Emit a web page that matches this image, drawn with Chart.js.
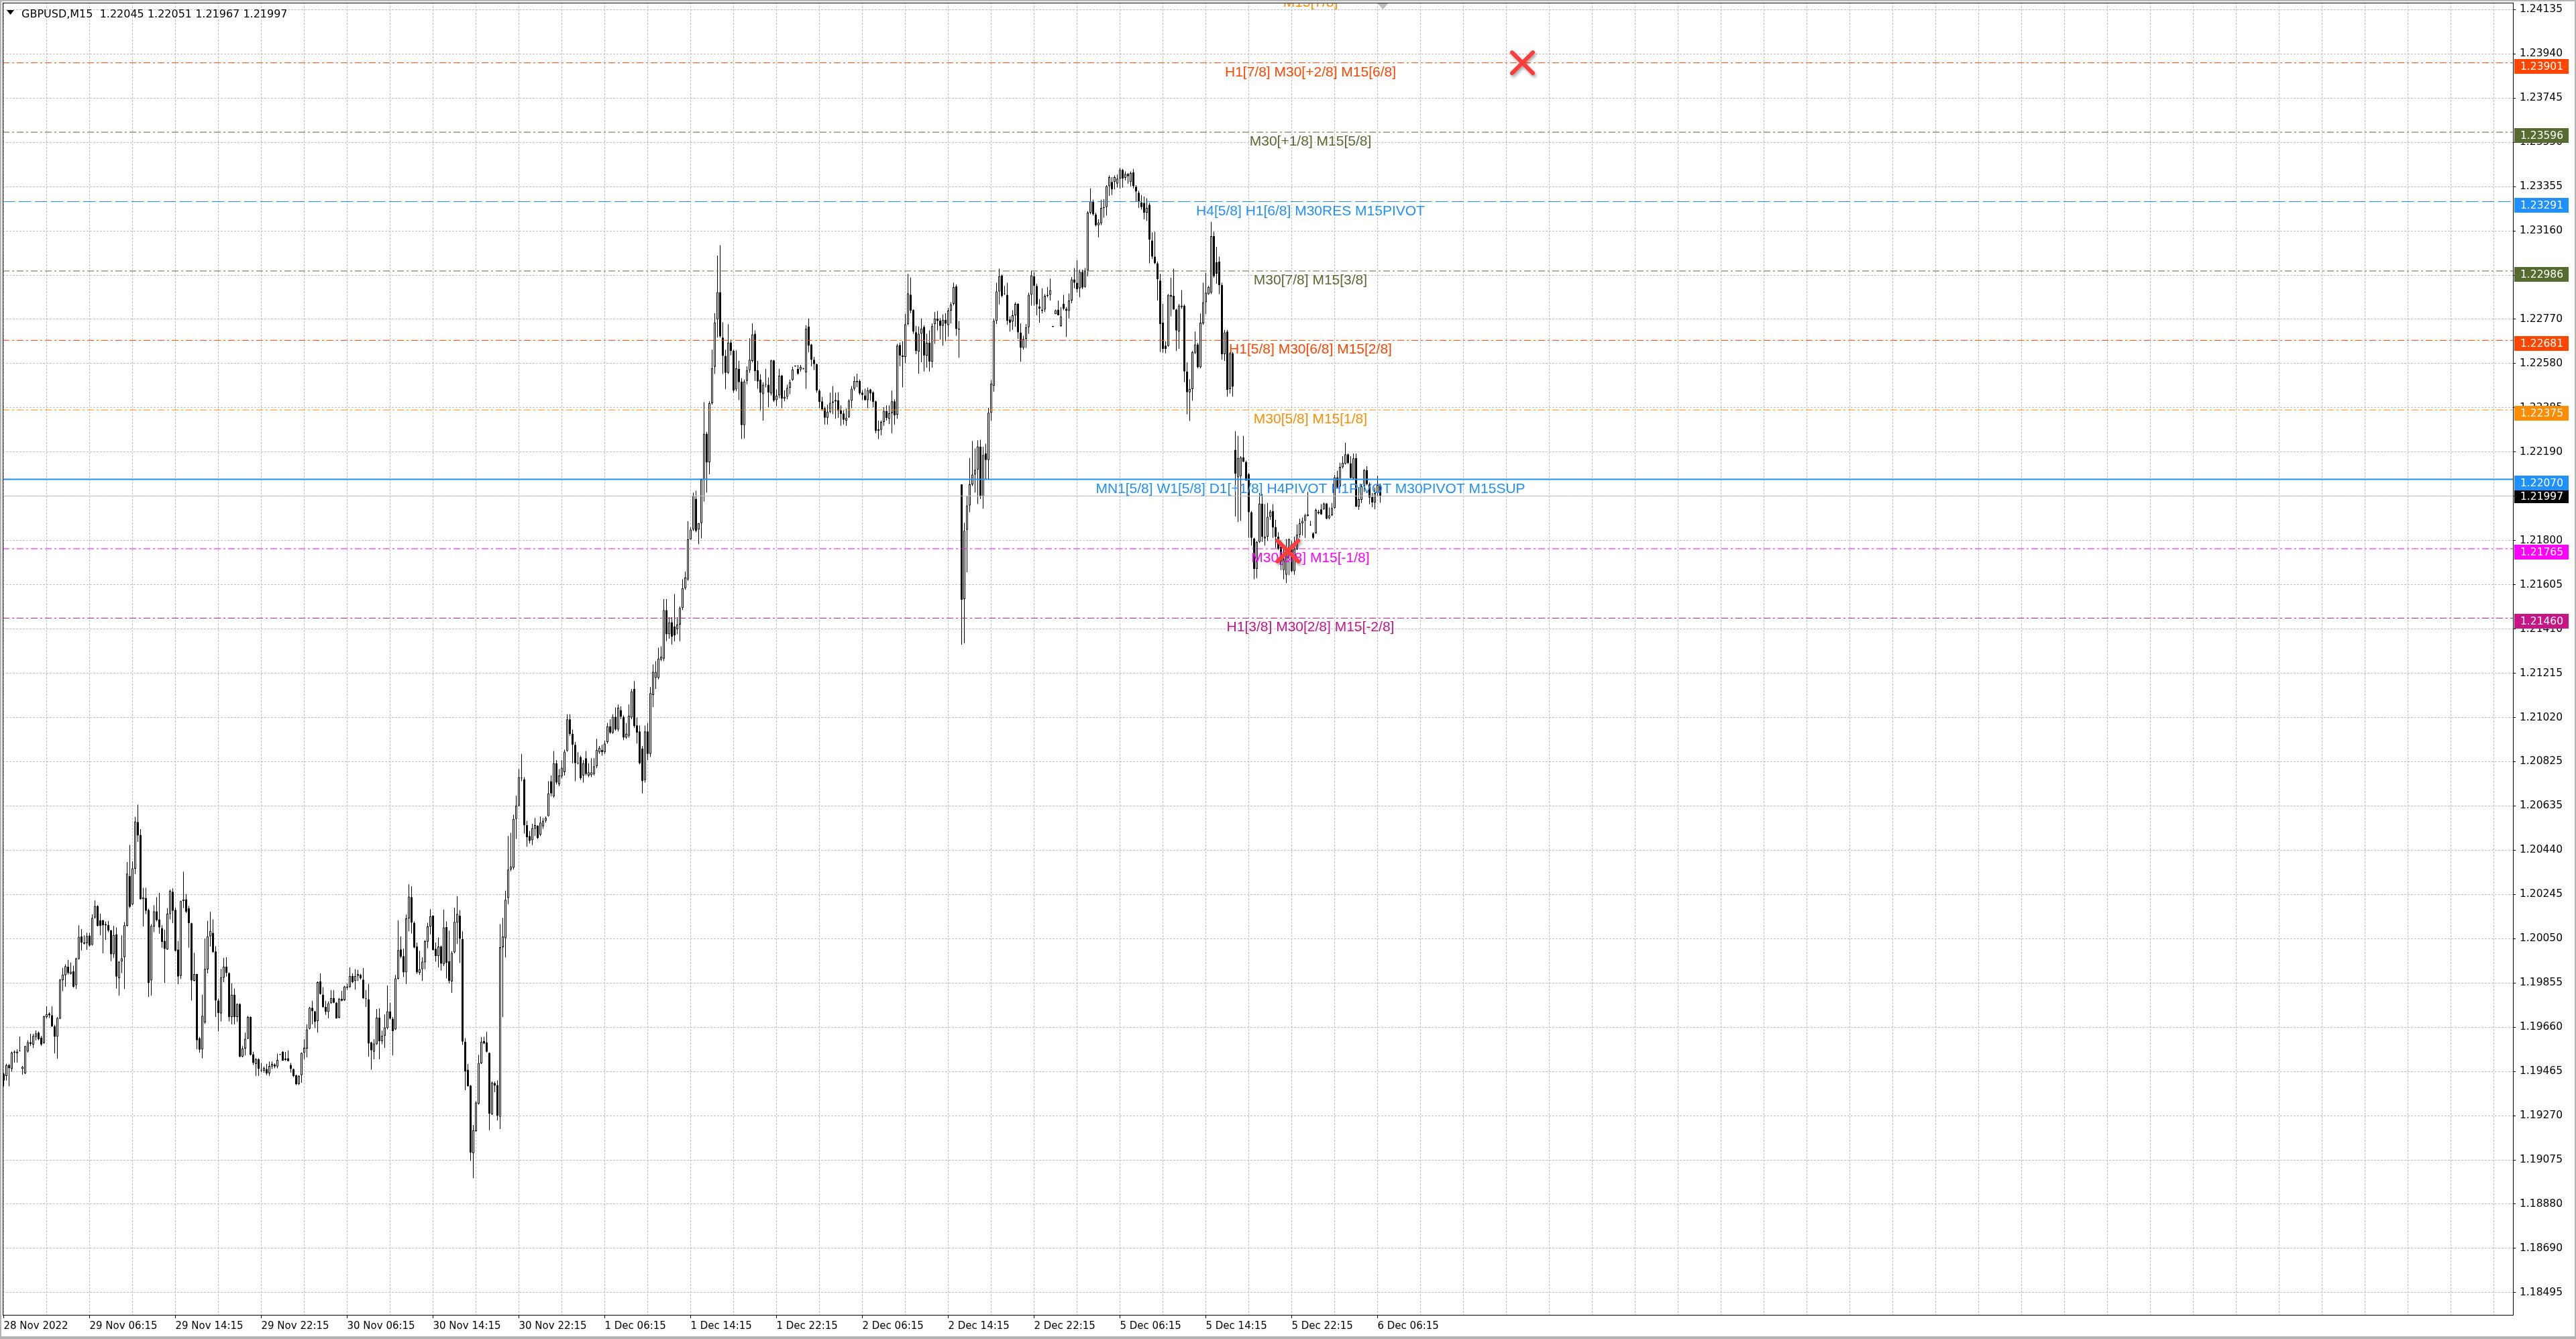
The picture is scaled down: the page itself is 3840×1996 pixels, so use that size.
<!DOCTYPE html>
<html>
<head>
<meta charset="utf-8">
<title>GBPUSD,M15</title>
<script src="https://cdn.jsdelivr.net/npm/chart.js@4.4.0/dist/chart.umd.min.js"></script>
<style>
  html, body { margin: 0; padding: 0; background: #fff; overflow: hidden; }
  #wrap { width: 3840px; height: 1996px; }
</style>
</head>
<body>
<div id="wrap"><canvas id="chart" width="3840" height="1996"></canvas></div>
<script>
const symbol = "GBPUSD,M15";

// M15 candles, 28 Nov 22:15 .. 6 Dec 06:45
const opens = [
  1.19456,1.19447,1.19496,1.19478,1.19550,1.19547,1.19557,1.19478,1.19458,1.19555,
  1.19596,1.19586,1.19619,1.19638,1.19616,1.19592,1.19707,1.19722,1.19715,1.19665,
  1.19620,1.19699,1.19869,1.19890,1.19928,1.19896,1.19908,1.19847,1.19962,1.20061,
  1.20034,1.20031,1.20065,1.20024,1.20144,1.20195,1.20131,1.20131,1.20115,1.20111,
  1.20087,1.19982,1.20069,1.19877,1.19951,1.19970,1.20107,1.20326,1.20201,1.20358,
  1.20564,1.20507,1.20224,1.20230,1.20178,1.19867,1.20105,1.20171,1.20136,1.20097,
  1.20041,1.20003,1.20159,1.20257,1.20178,1.20004,1.19887,1.20216,1.20224,1.20185,
  1.20119,1.19866,1.19895,1.19614,1.19564,1.19682,1.19916,1.20061,1.20077,1.19995,
  1.19779,1.19722,1.19879,1.19928,1.19900,1.19707,1.19805,1.19707,1.19764,1.19532,
  1.19568,1.19611,1.19707,1.19543,1.19500,1.19521,1.19470,1.19470,1.19478,1.19459,
  1.19489,1.19497,1.19489,1.19541,1.19554,1.19524,1.19525,1.19496,1.19478,1.19451,
  1.19411,1.19451,1.19549,1.19568,1.19655,1.19747,1.19732,1.19688,1.19863,1.19805,
  1.19751,1.19729,1.19767,1.19791,1.19769,1.19704,1.19787,1.19780,1.19841,1.19838,
  1.19887,1.19865,1.19887,1.19892,1.19871,1.19789,1.19785,1.19595,1.19554,1.19587,
  1.19704,1.19600,1.19623,1.19658,1.19732,1.19699,1.19652,1.19874,1.20004,1.19974,
  1.19903,1.20140,1.20234,1.20121,1.20016,1.19901,1.19917,1.19947,1.20038,1.20105,
  1.20152,1.20007,1.19974,1.20016,1.19939,1.20102,1.19952,1.19863,1.19991,1.20121,
  1.20152,1.20049,1.19598,1.19475,1.19405,1.19107,1.19205,1.19325,1.19503,1.19601,
  1.19595,1.19549,1.19278,1.19416,1.19407,1.19268,1.20013,1.20053,1.20230,1.20355,
  1.20363,1.20577,1.20636,1.20756,1.20751,1.20550,1.20502,1.20484,1.20534,1.20548,
  1.20508,1.20545,1.20569,1.20590,1.20743,1.20676,1.20822,1.20729,1.20764,1.20783,
  1.20876,1.21015,1.20951,1.20903,1.20822,1.20849,1.20768,1.20844,1.20768,1.20770,
  1.20775,1.20809,1.20871,1.20881,1.20871,1.20916,1.20985,1.20956,1.21026,1.20970,
  1.21056,1.21026,1.20935,1.20943,1.21023,1.21149,1.20989,1.20962,1.20887,1.20748,
  1.20962,1.20863,1.21122,1.21197,1.21197,1.21277,1.21282,1.21495,1.21389,1.21442,
  1.21424,1.21411,1.21432,1.21505,1.21592,1.21630,1.21806,1.21849,1.21985,1.21849,
  1.21878,1.22069,1.22271,1.22145,1.22405,1.22565,1.22773,1.22893,1.22693,1.22613,
  1.22538,1.22672,1.22635,1.22465,1.22556,1.22500,1.22308,1.22503,1.22550,1.22591,
  1.22710,1.22550,1.22509,1.22445,1.22486,1.22486,1.22448,1.22593,1.22418,1.22439,
  1.22526,1.22425,1.22433,1.22472,1.22507,1.22567,1.22556,1.22553,1.22556,1.22540,
  1.22742,1.22663,1.22596,1.22577,1.22460,1.22413,1.22383,1.22341,1.22367,1.22406,
  1.22412,1.22418,1.22374,1.22360,1.22328,1.22344,1.22416,1.22468,1.22497,1.22503,
  1.22451,1.22439,1.22418,1.22465,1.22453,1.22413,1.22283,1.22288,1.22322,1.22371,
  1.22336,1.22361,1.22413,1.22355,1.22661,1.22614,1.22608,1.22752,1.22882,1.22814,
  1.22717,1.22631,1.22710,1.22740,1.22614,1.22670,1.22587,1.22752,1.22777,1.22768,
  1.22745,1.22771,1.22748,1.22812,1.22841,1.22919,1.22728,1.22048,1.21544,1.21848,
  1.21955,1.22048,1.22091,1.22112,1.22213,1.21995,1.22184,1.22155,1.22363,1.22481,
  1.22767,1.22896,1.22966,1.22884,1.22881,1.22773,1.22763,1.22791,1.22841,1.22716,
  1.22648,1.22687,1.22739,1.22881,1.22963,1.22920,1.22830,1.22810,1.22816,1.22877,
  1.22881,1.22741,1.22796,1.22816,1.22744,1.22841,1.22820,1.22810,1.22856,1.22949,
  1.22934,1.22910,1.22982,1.22916,1.22987,1.23242,1.23292,1.23235,1.23187,1.23196,
  1.23263,1.23267,1.23359,1.23377,1.23377,1.23370,1.23392,1.23430,1.23396,1.23413,
  1.23377,1.23420,1.23356,1.23330,1.23287,1.23285,1.23242,1.23277,1.23120,1.23049,
  1.23020,1.22944,1.22759,1.22658,1.22656,1.22881,1.22877,1.22816,1.22720,1.22827,
  1.22834,1.22544,1.22453,1.22467,1.22627,1.22663,1.22563,1.22756,1.22849,1.22884,
  1.22891,1.23139,1.23024,1.23027,1.22924,1.22620,1.22720,1.22467,1.22624,1.22200,
  1.22079,1.22084,1.22167,1.22147,1.22093,1.21926,1.21810,1.21676,1.21795,1.21963,
  1.21810,1.21818,1.21905,1.21931,1.21860,1.21818,1.21774,1.21671,1.21651,1.21749,
  1.21784,1.21666,1.21763,1.21826,1.21877,1.21887,1.21909,1.21869,1.21833,1.21833,
  1.21921,1.21938,1.21938,1.21964,1.21899,1.21912,1.21944,1.22079,1.22039,1.22123,
  1.22138,1.22180,1.22141,1.22074,1.22164,1.21951,1.21980,1.22039,1.22111,1.22049,
  1.21993,1.21968,1.22010,1.22045
];

const highs = [
  1.19461,1.19501,1.19501,1.19555,1.19560,1.19564,1.19621,1.19491,1.19579,1.19604,
  1.19633,1.19633,1.19648,1.19643,1.19623,1.19712,1.19753,1.19727,1.19753,1.19673,
  1.19707,1.19873,1.19923,1.19938,1.19957,1.19946,1.19932,1.19967,1.20110,1.20093,
  1.20066,1.20077,1.20075,1.20158,1.20219,1.20198,1.20161,1.20134,1.20126,1.20129,
  1.20090,1.20107,1.20100,1.19952,1.20066,1.20124,1.20388,1.20463,1.20391,1.20586,
  1.20640,1.20532,1.20274,1.20274,1.20183,1.20115,1.20198,1.20234,1.20252,1.20110,
  1.20090,1.20185,1.20267,1.20272,1.20188,1.20041,1.20218,1.20345,1.20247,1.20195,
  1.20121,1.19989,1.19896,1.19619,1.19805,1.20051,1.20129,1.20169,1.20136,1.20018,
  1.19788,1.19918,1.19967,1.19969,1.19903,1.19854,1.19832,1.19767,1.19767,1.19579,
  1.19638,1.19712,1.19709,1.19554,1.19527,1.19525,1.19505,1.19489,1.19500,1.19511,
  1.19511,1.19503,1.19546,1.19543,1.19556,1.19553,1.19560,1.19505,1.19480,1.19453,
  1.19451,1.19551,1.19609,1.19674,1.19751,1.19778,1.19734,1.19863,1.19898,1.19838,
  1.19778,1.19775,1.19825,1.19825,1.19772,1.19791,1.19822,1.19844,1.19854,1.19925,
  1.19898,1.19917,1.19914,1.19896,1.19922,1.19825,1.19852,1.19598,1.19609,1.19741,
  1.19744,1.19647,1.19718,1.19845,1.19769,1.19707,1.19892,1.20132,1.20061,1.20007,
  1.20157,1.20290,1.20282,1.20127,1.20034,1.19998,1.19969,1.20045,1.20121,1.20181,
  1.20154,1.20034,1.20056,1.20021,1.20179,1.20127,1.20086,1.19996,1.20187,1.20238,
  1.20176,1.20083,1.19614,1.19500,1.19407,1.19232,1.19336,1.19540,1.19618,1.19620,
  1.19641,1.19551,1.19423,1.19423,1.19428,1.20115,1.20142,1.20262,1.20502,1.20516,
  1.20596,1.20679,1.20796,1.20863,1.20761,1.20569,1.20524,1.20556,1.20582,1.20550,
  1.20588,1.20582,1.20588,1.20743,1.20768,1.20876,1.20836,1.20796,1.20836,1.20882,
  1.21037,1.21037,1.20970,1.20916,1.20871,1.20855,1.20836,1.20876,1.20822,1.20844,
  1.20844,1.20930,1.20898,1.20903,1.20922,1.20999,1.21015,1.21037,1.21067,1.21080,
  1.21072,1.21032,1.20999,1.21080,1.21149,1.21183,1.21023,1.20988,1.20898,1.20988,
  1.20999,1.21157,1.21256,1.21271,1.21330,1.21336,1.21544,1.21544,1.21464,1.21464,
  1.21566,1.21464,1.21512,1.21631,1.21664,1.21886,1.21859,1.22012,1.22020,1.21878,
  1.22073,1.22409,1.22279,1.22413,1.22640,1.22800,1.23054,1.23099,1.22760,1.22640,
  1.22752,1.22684,1.22640,1.22637,1.22591,1.22515,1.22509,1.22567,1.22690,1.22756,
  1.22725,1.22591,1.22532,1.22497,1.22556,1.22518,1.22596,1.22596,1.22465,1.22556,
  1.22529,1.22462,1.22486,1.22509,1.22565,1.22570,1.22573,1.22573,1.22560,1.22748,
  1.22777,1.22666,1.22608,1.22579,1.22465,1.22433,1.22390,1.22398,1.22451,1.22480,
  1.22451,1.22453,1.22395,1.22375,1.22381,1.22422,1.22480,1.22523,1.22535,1.22509,
  1.22462,1.22468,1.22474,1.22468,1.22457,1.22416,1.22328,1.22328,1.22387,1.22395,
  1.22395,1.22460,1.22422,1.22666,1.22672,1.22678,1.22798,1.22973,1.22958,1.22818,
  1.22745,1.22742,1.22777,1.22748,1.22710,1.22725,1.22756,1.22806,1.22810,1.22779,
  1.22795,1.22800,1.22824,1.22849,1.22935,1.22926,1.22766,1.22048,1.21879,1.21998,
  1.22164,1.22238,1.22206,1.22241,1.22244,1.22213,1.22227,1.22384,1.22506,1.22777,
  1.22934,1.22996,1.22970,1.22920,1.22934,1.22787,1.22813,1.22849,1.22844,1.22756,
  1.22701,1.22753,1.22891,1.22987,1.22980,1.22930,1.22863,1.22910,1.22884,1.22916,
  1.22953,1.22744,1.22816,1.22856,1.22827,1.22881,1.22827,1.22887,1.22959,1.22999,
  1.23034,1.22992,1.22992,1.22999,1.23249,1.23349,1.23299,1.23242,1.23213,1.23299,
  1.23302,1.23363,1.23406,1.23399,1.23406,1.23410,1.23439,1.23435,1.23424,1.23416,
  1.23424,1.23435,1.23363,1.23339,1.23320,1.23313,1.23306,1.23285,1.23156,1.23159,
  1.23027,1.22973,1.22841,1.22677,1.22884,1.22956,1.22996,1.22820,1.22841,1.22902,
  1.22839,1.22584,1.22510,1.22634,1.22720,1.22670,1.22799,1.22934,1.22977,1.22920,
  1.23202,1.23159,1.23092,1.23049,1.22934,1.22727,1.22727,1.22630,1.22630,1.22282,
  1.22261,1.22172,1.22261,1.22152,1.22098,1.21931,1.21813,1.21799,1.22010,1.22005,
  1.21961,1.21966,1.21936,1.21961,1.21892,1.21838,1.21799,1.21769,1.21808,1.21810,
  1.21799,1.21818,1.21872,1.21897,1.21902,1.21918,1.22015,1.21887,1.21838,1.21941,
  1.21936,1.21961,1.21968,1.21966,1.21946,1.21966,1.22089,1.22108,1.22143,1.22172,
  1.22231,1.22184,1.22172,1.22184,1.22184,1.22036,1.22049,1.22115,1.22128,1.22056,
  1.22010,1.22034,1.22086,1.22051
];

const lows = [
  1.19402,1.19427,1.19402,1.19466,1.19506,1.19506,1.19555,1.19454,1.19456,1.19550,
  1.19579,1.19570,1.19604,1.19604,1.19579,1.19589,1.19700,1.19702,1.19663,1.19547,
  1.19523,1.19697,1.19820,1.19839,1.19893,1.19893,1.19835,1.19830,1.19959,1.19999,
  1.20026,1.20002,1.20016,1.20021,1.20139,1.20105,1.20066,1.19987,1.20046,1.20080,
  1.19952,1.19967,1.19832,1.19800,1.19900,1.19830,1.20105,1.20185,1.20198,1.20335,
  1.20476,1.20223,1.20105,1.20159,1.19795,1.19800,1.20080,1.20126,1.20073,1.20011,
  1.19857,1.20002,1.20136,1.20119,1.19995,1.19851,1.19874,1.20185,1.20164,1.20011,
  1.19779,1.19864,1.19564,1.19550,1.19525,1.19677,1.19898,1.20016,1.19989,1.19707,
  1.19643,1.19687,1.19859,1.19884,1.19687,1.19674,1.19674,1.19685,1.19529,1.19529,
  1.19538,1.19609,1.19538,1.19496,1.19448,1.19448,1.19464,1.19462,1.19451,1.19448,
  1.19478,1.19481,1.19481,1.19539,1.19514,1.19514,1.19511,1.19462,1.19443,1.19407,
  1.19408,1.19418,1.19521,1.19529,1.19652,1.19674,1.19658,1.19638,1.19805,1.19747,
  1.19716,1.19701,1.19765,1.19767,1.19699,1.19701,1.19776,1.19778,1.19825,1.19835,
  1.19856,1.19827,1.19865,1.19871,1.19787,1.19751,1.19532,1.19475,1.19521,1.19584,
  1.19521,1.19587,1.19571,1.19652,1.19696,1.19538,1.19650,1.19872,1.19965,1.19882,
  1.19852,1.20083,1.20074,1.20009,1.19896,1.19892,1.19865,1.19917,1.20009,1.20070,
  1.19998,1.19950,1.19925,1.19911,1.19930,1.19876,1.19854,1.19813,1.19987,1.20027,
  1.19944,1.19584,1.19385,1.19401,1.19074,1.18998,1.19202,1.19322,1.19500,1.19587,
  1.19551,1.19209,1.19276,1.19376,1.19252,1.19214,1.19706,1.19968,1.20203,1.20347,
  1.20355,1.20489,1.20631,1.20743,1.20513,1.20455,1.20470,1.20462,1.20502,1.20489,
  1.20502,1.20534,1.20561,1.20588,1.20676,1.20671,1.20729,1.20721,1.20756,1.20768,
  1.20873,1.20943,1.20822,1.20743,1.20817,1.20748,1.20737,1.20768,1.20761,1.20761,
  1.20768,1.20801,1.20863,1.20855,1.20863,1.20908,1.20951,1.20951,1.20965,1.20962,
  1.21015,1.20924,1.20930,1.20935,1.21015,1.20978,1.20908,1.20817,1.20689,1.20737,
  1.20836,1.20849,1.21069,1.21149,1.21191,1.21271,1.21271,1.21359,1.21370,1.21344,
  1.21357,1.21389,1.21359,1.21495,1.21584,1.21624,1.21806,1.21843,1.21838,1.21785,
  1.21811,1.21972,1.22012,1.22092,1.22399,1.22533,1.22693,1.22693,1.22533,1.22466,
  1.22533,1.22616,1.22451,1.22457,1.22418,1.22247,1.22250,1.22488,1.22538,1.22585,
  1.22503,1.22468,1.22371,1.22328,1.22474,1.22387,1.22439,1.22410,1.22392,1.22427,
  1.22383,1.22413,1.22422,1.22445,1.22503,1.22565,1.22530,1.22544,1.22553,1.22468,
  1.22628,1.22567,1.22550,1.22451,1.22383,1.22371,1.22311,1.22311,1.22360,1.22357,
  1.22336,1.22340,1.22305,1.22311,1.22305,1.22340,1.22383,1.22460,1.22476,1.22441,
  1.22418,1.22416,1.22383,1.22416,1.22387,1.22273,1.22247,1.22264,1.22305,1.22328,
  1.22313,1.22273,1.22311,1.22336,1.22567,1.22474,1.22581,1.22748,1.22800,1.22710,
  1.22620,1.22535,1.22585,1.22544,1.22561,1.22544,1.22561,1.22666,1.22725,1.22684,
  1.22658,1.22678,1.22696,1.22756,1.22835,1.22701,1.22605,1.21343,1.21349,1.21662,
  1.21926,1.22041,1.22012,1.21962,1.21984,1.21941,1.22070,1.22070,1.22327,1.22456,
  1.22753,1.22839,1.22870,1.22881,1.22749,1.22720,1.22727,1.22741,1.22687,1.22587,
  1.22641,1.22648,1.22710,1.22834,1.22834,1.22791,1.22759,1.22799,1.22806,1.22870,
  1.22856,1.22738,1.22796,1.22791,1.22741,1.22813,1.22696,1.22777,1.22844,1.22910,
  1.22891,1.22870,1.22906,1.22913,1.22963,1.23235,1.23230,1.23182,1.23134,1.23187,
  1.23220,1.23230,1.23316,1.23320,1.23345,1.23353,1.23349,1.23353,1.23385,1.23370,
  1.23359,1.23349,1.23292,1.23263,1.23256,1.23213,1.23206,1.23020,1.23039,1.23016,
  1.22856,1.22630,1.22627,1.22624,1.22653,1.22787,1.22816,1.22634,1.22644,1.22820,
  1.22498,1.22356,1.22327,1.22416,1.22620,1.22558,1.22558,1.22749,1.22796,1.22881,
  1.22884,1.22956,1.22930,1.22884,1.22596,1.22591,1.22434,1.22448,1.22434,1.21907,
  1.21882,1.21887,1.22147,1.22064,1.21813,1.21779,1.21631,1.21636,1.21791,1.21795,
  1.21779,1.21799,1.21892,1.21813,1.21769,1.21759,1.21671,1.21631,1.21614,1.21649,
  1.21661,1.21651,1.21759,1.21813,1.21823,1.21813,1.21907,1.21865,1.21808,1.21831,
  1.21916,1.21914,1.21936,1.21895,1.21895,1.21909,1.21941,1.22032,1.22034,1.22118,
  1.22135,1.22138,1.22074,1.22072,1.21948,1.21936,1.21966,1.22015,1.22044,1.21961,
  1.21948,1.21938,1.21995,1.21967
];

const closes = [
  1.19427,1.19496,1.19481,1.19550,1.19555,1.19555,1.19557,1.19488,1.19579,1.19596,
  1.19588,1.19623,1.19635,1.19609,1.19586,1.19710,1.19719,1.19714,1.19665,1.19620,
  1.19702,1.19871,1.19893,1.19930,1.19900,1.19906,1.19839,1.19965,1.20059,1.20033,
  1.20029,1.20063,1.20021,1.20142,1.20195,1.20107,1.20107,1.20109,1.20109,1.20087,
  1.19982,1.20067,1.19884,1.19950,1.19965,1.20110,1.20337,1.20191,1.20360,1.20566,
  1.20504,1.20224,1.20232,1.20173,1.19857,1.20107,1.20171,1.20132,1.20100,1.20036,
  1.20006,1.20161,1.20262,1.20173,1.19997,1.19884,1.20216,1.20223,1.20169,1.20119,
  1.19867,1.19895,1.19604,1.19563,1.19712,1.19918,1.20061,1.20085,1.19992,1.19779,
  1.19724,1.19881,1.19928,1.19900,1.19707,1.19805,1.19707,1.19764,1.19532,1.19568,
  1.19611,1.19707,1.19540,1.19505,1.19521,1.19478,1.19470,1.19483,1.19459,1.19491,
  1.19500,1.19489,1.19518,1.19541,1.19514,1.19518,1.19513,1.19478,1.19447,1.19411,
  1.19448,1.19549,1.19571,1.19652,1.19747,1.19732,1.19685,1.19860,1.19808,1.19751,
  1.19729,1.19767,1.19789,1.19769,1.19701,1.19787,1.19778,1.19841,1.19835,1.19887,
  1.19860,1.19887,1.19895,1.19876,1.19789,1.19787,1.19590,1.19560,1.19590,1.19704,
  1.19600,1.19625,1.19660,1.19732,1.19699,1.19645,1.19876,1.20001,1.19972,1.19903,
  1.20140,1.20236,1.20121,1.20012,1.19903,1.19917,1.19950,1.20040,1.20105,1.20149,
  1.20001,1.19974,1.20016,1.19941,1.20100,1.19944,1.19865,1.19988,1.20125,1.20160,
  1.20051,1.19598,1.19467,1.19402,1.19110,1.19209,1.19331,1.19505,1.19598,1.19590,
  1.19554,1.19282,1.19418,1.19405,1.19273,1.20013,1.20061,1.20222,1.20355,1.20369,
  1.20577,1.20636,1.20761,1.20756,1.20550,1.20497,1.20481,1.20537,1.20550,1.20494,
  1.20561,1.20569,1.20582,1.20689,1.20689,1.20822,1.20737,1.20768,1.20802,1.20873,
  1.21015,1.20951,1.20903,1.20822,1.20822,1.20756,1.20822,1.20775,1.20782,1.20782,
  1.20809,1.20881,1.20890,1.20871,1.20908,1.20985,1.20956,1.21026,1.20970,1.21067,
  1.21026,1.20935,1.20951,1.21031,1.21138,1.20985,1.20956,1.20822,1.20743,1.20962,
  1.20863,1.21130,1.21224,1.21224,1.21282,1.21290,1.21495,1.21389,1.21442,1.21378,
  1.21384,1.21432,1.21505,1.21592,1.21638,1.21806,1.21849,1.21998,1.21843,1.21878,
  1.22069,1.22271,1.22145,1.22405,1.22559,1.22760,1.22893,1.22698,1.22613,1.22538,
  1.22671,1.22635,1.22460,1.22558,1.22497,1.22308,1.22500,1.22550,1.22596,1.22707,
  1.22546,1.22500,1.22451,1.22486,1.22486,1.22451,1.22593,1.22416,1.22437,1.22526,
  1.22425,1.22433,1.22472,1.22497,1.22553,1.22567,1.22535,1.22565,1.22556,1.22733,
  1.22658,1.22596,1.22577,1.22460,1.22410,1.22378,1.22341,1.22367,1.22406,1.22412,
  1.22419,1.22371,1.22357,1.22332,1.22341,1.22416,1.22468,1.22503,1.22503,1.22448,
  1.22441,1.22418,1.22462,1.22448,1.22410,1.22283,1.22290,1.22322,1.22371,1.22340,
  1.22361,1.22413,1.22352,1.22658,1.22614,1.22608,1.22752,1.22888,1.22812,1.22719,
  1.22635,1.22710,1.22733,1.22614,1.22670,1.22587,1.22745,1.22777,1.22766,1.22745,
  1.22771,1.22754,1.22812,1.22838,1.22915,1.22731,1.22733,1.21541,1.21844,1.21955,
  1.22048,1.22091,1.22112,1.22215,1.21995,1.22177,1.22155,1.22363,1.22491,1.22767,
  1.22896,1.22963,1.22877,1.22884,1.22767,1.22759,1.22791,1.22841,1.22716,1.22648,
  1.22687,1.22739,1.22881,1.22967,1.22920,1.22839,1.22820,1.22816,1.22877,1.22881,
  1.22902,1.22741,1.22813,1.22791,1.22787,1.22820,1.22810,1.22856,1.22949,1.22934,
  1.22906,1.22982,1.22913,1.22987,1.23242,1.23292,1.23235,1.23187,1.23199,1.23263,
  1.23267,1.23359,1.23399,1.23345,1.23399,1.23392,1.23430,1.23392,1.23413,1.23402,
  1.23416,1.23359,1.23335,1.23292,1.23267,1.23242,1.23263,1.23124,1.23049,1.23020,
  1.22949,1.22753,1.22644,1.22644,1.22881,1.22873,1.22816,1.22724,1.22834,1.22834,
  1.22544,1.22453,1.22467,1.22630,1.22663,1.22563,1.22759,1.22849,1.22891,1.22916,
  1.23139,1.22963,1.22973,1.22924,1.22620,1.22716,1.22463,1.22624,1.22477,1.22095,
  1.22164,1.22167,1.22147,1.22064,1.21926,1.21813,1.21676,1.21795,1.21963,1.21818,
  1.21818,1.21905,1.21928,1.21858,1.21818,1.21764,1.21710,1.21720,1.21754,1.21808,
  1.21666,1.21764,1.21828,1.21877,1.21887,1.21912,1.21916,1.21869,1.21813,1.21936,
  1.21928,1.21916,1.21964,1.21897,1.21912,1.21944,1.22079,1.22034,1.22125,1.22143,
  1.22180,1.22141,1.22076,1.22162,1.21951,1.21983,1.22039,1.22111,1.22049,1.21990,
  1.21968,1.22010,1.22045,1.21997
];

// one time label every 32 bars (8 hours), starting at the first bar
const xTickLabels = ["28 Nov 2022", "29 Nov 06:15", "29 Nov 14:15", "29 Nov 22:15", "30 Nov 06:15",
  "30 Nov 14:15", "30 Nov 22:15", "1 Dec 06:15", "1 Dec 14:15", "1 Dec 22:15", "2 Dec 06:15",
  "2 Dec 14:15", "2 Dec 22:15", "5 Dec 06:15", "5 Dec 14:15", "5 Dec 22:15", "6 Dec 06:15"];

const yTickLabels = ["1.24135", "1.23940", "1.23745", "1.23550", "1.23355", "1.23160", "1.22965",
  "1.22770", "1.22580", "1.22385", "1.22190", "1.21995", "1.21800", "1.21605", "1.21410", "1.21215",
  "1.21020", "1.20825", "1.20635", "1.20440", "1.20245", "1.20050", "1.19855", "1.19660", "1.19465",
  "1.19270", "1.19075", "1.18880", "1.18690", "1.18495"];

// Murrey math levels
const levelPrices = [1.24206, 1.23901, 1.23596, 1.23291, 1.22986, 1.22681, 1.22375, 1.22070, 1.21765, 1.21460];
const levelTexts = [
  "M15[7/8]",
  "H1[7/8] M30[+2/8] M15[6/8]",
  "M30[+1/8] M15[5/8]",
  "H4[5/8] H1[6/8] M30RES M15PIVOT",
  "M30[7/8] M15[3/8]",
  "H1[5/8] M30[6/8] M15[2/8]",
  "M30[5/8] M15[1/8]",
  "MN1[5/8] W1[5/8] D1[+1/8] H4PIVOT H1PIVOT M30PIVOT M15SUP",
  "M30[3/8] M15[-1/8]",
  "H1[3/8] M30[2/8] M15[-2/8]"
];
const levelColors = ["#ff8c00", "#ff4500", "#556b2f", "#1e90ff", "#556b2f", "#ff4500", "#ff8c00", "#1e90ff", "#ff00ff", "#c71585"];
const levelStyles = ["dashdot", "dashdot", "dashdot", "dash", "dashdot", "dashdot", "dashdot", "solid", "dashdot", "dashdot"];

// cross markers (bar index, price)
const crossBars = [566, 478.6];
const crossPrices = [1.23901, 1.21755];

// ---- layout of the MT4 window ----
const W = 3840, H = 1996;
const AREA = { left: 4, top: 4, right: 3746, bottom: 1960 };
const BAR_PX = 4, FIRST_BAR_PX = 5.5;
const Y_TOP_TICK = 1.24135, Y_STEP = 0.0019448, Y_TOP_TICK_PX = 14.3, STEP_PX = 65.95;
const pricePerPx = Y_STEP / STEP_PX;
const yMax = Y_TOP_TICK + (Y_TOP_TICK_PX - AREA.top) * pricePerPx;
const yMin = Y_TOP_TICK - (AREA.bottom - Y_TOP_TICK_PX) * pricePerPx;
const xMin = (AREA.left - FIRST_BAR_PX) / BAR_PX;
const xMax = (AREA.right - FIRST_BAR_PX) / BAR_PX;
const LABEL_BAR = 487;
const AXIS_FONT = '"DejaVu Sans", Verdana, sans-serif';
const LABEL_FONT = '"Liberation Sans", Arial, sans-serif';

const fmt = v => v.toFixed(5);
const last = closes.length - 1;
const bidPrice = closes[last];

const wickData = highs.map((h, i) => ({ x: i, y: [lows[i], h] }));
const bodyData = opens.map((o, i) => ({ x: i, y: [o, closes[i]] }));

const dashFor = s => s === "dash" ? [18, 6] : s === "solid" ? [] : [10, 4, 3, 4];

const levelSets = levelPrices.map((p, k) => ({
  type: "line",
  data: [{ x: xMin, y: p }, { x: xMax, y: p }],
  borderColor: levelColors[k],
  borderWidth: levelStyles[k] === "solid" ? 2 : 1,
  borderDash: dashFor(levelStyles[k]),
  pointRadius: 0,
  order: -1
}));

const decor = {
  id: "decor",
  beforeDraw(chart) {
    const ctx = chart.ctx;
    ctx.save();
    ctx.fillStyle = "#fff";
    ctx.fillRect(0, 0, chart.width, chart.height);
    ctx.restore();
  },
  beforeDatasetDraw(chart, args) {
    if (args.meta.type !== "scatter") return;
    const { ctx, chartArea: a, scales: { x, y } } = chart;
    // level captions, drawn over the candles, under the markers
    ctx.save();
    ctx.beginPath();
    ctx.rect(a.left, a.top + 1, a.right - a.left, a.bottom - a.top);
    ctx.clip();
    ctx.font = "21px " + LABEL_FONT;
    ctx.textAlign = "center";
    ctx.textBaseline = "alphabetic";
    const cx = x.getPixelForValue(LABEL_BAR);
    levelPrices.forEach((p, k) => {
      ctx.fillStyle = levelColors[k];
      ctx.fillText(levelTexts[k], cx, y.getPixelForValue(p) + 20);
    });
    ctx.restore();
    ctx.save();
    ctx.shadowColor = "rgba(0,0,0,0.35)";
    ctx.shadowBlur = 4;
    ctx.shadowOffsetX = 2;
    ctx.shadowOffsetY = 3;
    ctx.lineCap = "round";
  },
  afterDatasetDraw(chart, args) {
    if (args.meta.type === "scatter") chart.ctx.restore();
  },
  afterDraw(chart) {
    const { ctx, chartArea: a, scales: { x, y } } = chart;
    ctx.save();
    // window edge
    ctx.fillStyle = "#b4b4b4";
    ctx.fillRect(0, 0, W, 2);
    ctx.fillRect(0, 0, 2, H);
    ctx.fillRect(W - 2, 0, 2, H);
    ctx.fillRect(0, H - 4, W, 4);
    // chart frame
    ctx.fillStyle = "#000";
    ctx.fillRect(a.left, a.top, a.right - a.left + 1, 1);
    ctx.fillRect(a.left, a.top, 1, a.bottom - a.top + 1);
    ctx.fillRect(a.left, a.bottom, a.right - a.left + 1, 1);
    ctx.fillRect(a.right, a.top, 1, a.bottom - a.top + 1);

    // price boxes on the right scale
    ctx.font = "15.5px " + AXIS_FONT;
    ctx.textAlign = "left";
    ctx.textBaseline = "middle";
    levelPrices.forEach((p, k) => {
      const py = Math.round(y.getPixelForValue(p));
      if (py < a.top || py > a.bottom) return;
      ctx.fillStyle = levelColors[k];
      ctx.fillRect(a.right + 2, py - 6, 81, 22);
      ctx.fillStyle = "#fff";
      ctx.fillText(fmt(p), a.right + 11, py + 5.5);
    });
    const by = Math.round(y.getPixelForValue(bidPrice));
    ctx.fillStyle = "#000";
    ctx.fillRect(a.right + 2, by - 8, 81, 19);
    ctx.fillStyle = "#fff";
    ctx.fillText(fmt(bidPrice), a.right + 11, by + 1.5);

    // chart shift marker
    const sx = x.getPixelForValue(closes.length);
    ctx.fillStyle = "#bdbdbd";
    ctx.beginPath();
    ctx.moveTo(sx - 8, a.top + 1);
    ctx.lineTo(sx + 8, a.top + 1);
    ctx.lineTo(sx, a.top + 10);
    ctx.closePath();
    ctx.fill();

    // header
    ctx.fillStyle = "#000";
    ctx.beginPath();
    ctx.moveTo(10, 15);
    ctx.lineTo(21, 15);
    ctx.lineTo(15.5, 22);
    ctx.closePath();
    ctx.fill();
    ctx.font = "16px " + AXIS_FONT;
    ctx.textBaseline = "alphabetic";
    ctx.fillText(symbol + "  " + fmt(opens[last]) + " " + fmt(highs[last]) + " " +
      fmt(lows[last]) + " " + fmt(closes[last]), 32, 26);
    ctx.restore();
  }
};

new Chart(document.getElementById("chart"), {
  type: "bar",
  data: {
    datasets: [
      {
        label: "wicks",
        data: wickData,
        backgroundColor: "#000",
        borderWidth: 0,
        grouped: false,
        barPercentage: 1,
        categoryPercentage: 1,
        maxBarThickness: 1,
        inflateAmount: 0,
        order: 2
      },
      {
        label: "bodies",
        data: bodyData,
        backgroundColor: c => closes[c.dataIndex] >= opens[c.dataIndex] ? "#fff" : "#000",
        borderColor: "#000",
        borderWidth: 1,
        borderSkipped: false,
        minBarLength: 1,
        grouped: false,
        barPercentage: 1,
        categoryPercentage: 1,
        maxBarThickness: 3,
        inflateAmount: 0,
        order: 1
      },
      ...levelSets,
      {
        type: "line",
        label: "bid",
        data: [{ x: xMin, y: bidPrice }, { x: xMax, y: bidPrice }],
        borderColor: "#c0c0c0",
        borderWidth: 1,
        pointRadius: 0,
        order: -1
      },
      {
        type: "scatter",
        label: "marks",
        data: crossBars.map((b, k) => ({ x: b, y: crossPrices[k] })),
        pointStyle: "crossRot",
        pointRadius: 22,
        borderWidth: 6,
        borderColor: "#ff3c3c",
        backgroundColor: "#ff3c3c",
        order: -2
      }
    ]
  },
  options: {
    responsive: false,
    devicePixelRatio: 1,
    animation: false,
    events: [],
    layout: { autoPadding: false, padding: { left: AREA.left, top: AREA.top, right: 0, bottom: 0 } },
    plugins: { legend: { display: false }, tooltip: { enabled: false } },
    scales: {
      x: {
        type: "linear",
        offset: false,
        min: xMin,
        max: xMax,
        afterBuildTicks: s => {
          const t = [];
          for (let v = 0; v <= xMax; v += 16) t.push({ value: v });
          s.ticks = t;
        },
        afterFit: s => {
          s.height = H - AREA.bottom;
          s.paddingLeft = 0; s.paddingRight = 0; s.paddingTop = 0; s.paddingBottom = 0;
        },
        grid: {
          offset: false,
          color: "#c0c0c0",
          lineWidth: 1,
          tickLength: 5,
          tickColor: c => (c.tick && c.tick.value % 32 === 0 && xTickLabels[c.tick.value / 32]) ? "#000" : "rgba(0,0,0,0)"
        },
        border: { display: false, dash: [3, 2] },
        ticks: {
          autoSkip: false,
          maxRotation: 0,
          minRotation: 0,
          align: "start",
          padding: 3,
          color: "#000",
          font: { family: AXIS_FONT, size: 15 },
          callback: v => (v % 32 === 0 && xTickLabels[v / 32]) ? xTickLabels[v / 32] : ""
        }
      },
      y: {
        type: "linear",
        position: "right",
        offset: false,
        min: yMin,
        max: yMax,
        afterBuildTicks: s => {
          s.ticks = yTickLabels.map((_, k) => ({ value: Y_TOP_TICK - k * Y_STEP }));
        },
        afterFit: s => {
          s.width = W - AREA.right;
          s.paddingLeft = 0; s.paddingRight = 0; s.paddingTop = 0; s.paddingBottom = 0;
        },
        grid: { color: "#c0c0c0", lineWidth: 1, tickLength: 4, tickColor: "#000" },
        border: { display: false, dash: [3, 2] },
        ticks: {
          padding: 6,
          color: "#000",
          font: { family: AXIS_FONT, size: 15.5 },
          callback: (v, i) => yTickLabels[i]
        }
      }
    }
  },
  plugins: [decor]
});
</script>
</body>
</html>
